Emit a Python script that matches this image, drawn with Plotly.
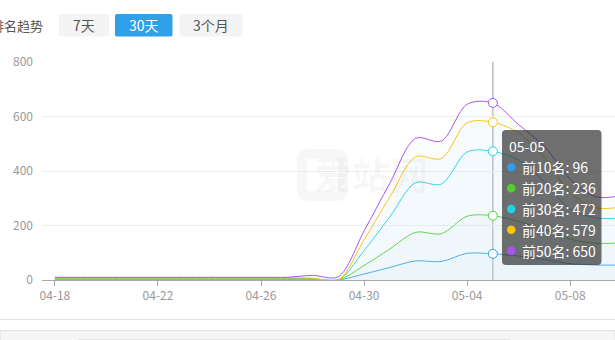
import plotly.graph_objects as go

# ---- data ----
dates = ["2024-04-18", "2024-04-19", "2024-04-20", "2024-04-21", "2024-04-22",
         "2024-04-23", "2024-04-24", "2024-04-25", "2024-04-26", "2024-04-27",
         "2024-04-28", "2024-04-29", "2024-04-30", "2024-05-01", "2024-05-02",
         "2024-05-03", "2024-05-04", "2024-05-05", "2024-05-06", "2024-05-07",
         "2024-05-08", "2024-05-09", "2024-05-10"]
series_names = ["前10名", "前20名", "前30名", "前40名", "前50名"]
top10 = [1, 1, 1, 1, 1, 1, 1, 1, 1, 1, 1, 0, 22, 46, 70, 68, 98, 96, 88, 75, 60, 55, 55]
top20 = [6, 6, 6, 6, 6, 6, 6, 6, 6, 6, 5, 0, 53, 114, 175, 170, 234, 236, 215, 185, 150, 135, 136]
top30 = [3, 3, 3, 3, 3, 3, 3, 3, 3, 3, 3, 0, 108, 232, 357, 352, 470, 472, 440, 360, 260, 228, 228]
top40 = [8, 8, 8, 8, 8, 8, 8, 8, 8, 8, 7, 0, 147, 305, 452, 446, 577, 579, 540, 450, 320, 265, 268]
top50 = [10, 10, 10, 10, 10, 10, 10, 10, 10, 10, 17, 12, 180, 355, 520, 510, 645, 650, 570, 490, 370, 305, 310]
colors = ["#2d9ef0", "#52cf2e", "#1fd4e6", "#fdc50a", "#a955ef"]
y_ticks = [0, 200, 400, 600, 800]
buttons = ["7天", "30天", "3个月"]
hover_date = "2024-05-05"

all_series = [top10, top20, top30, top40, top50]

# ---- geometry helpers (pixel -> paper) ----
W, H = 615, 340
L, R, T, B = 42, 0, 62, 60
PW, PH = W - L - R, H - T - B


def px(x):
    return (x - L) / PW


def py(y):
    return (H - B - y) / PH


def roundrect(x0, y0, x1, y1, r):
    pts = [
        ("M", [(x0 + r, y0)]), ("L", [(x1 - r, y0)]), ("Q", [(x1, y0), (x1, y0 + r)]),
        ("L", [(x1, y1 - r)]), ("Q", [(x1, y1), (x1 - r, y1)]), ("L", [(x0 + r, y1)]),
        ("Q", [(x0, y1), (x0, y1 - r)]), ("L", [(x0, y0 + r)]), ("Q", [(x0, y0), (x0 + r, y0)]),
    ]
    s = ""
    for cmd, ps in pts:
        s += cmd + " " + " ".join(f"{px(a):.5f},{py(b):.5f}" for a, b in ps) + " "
    return s + "Z"


fig = go.Figure()

for name, vals, c in zip(series_names, all_series, colors):
    fig.add_trace(go.Scatter(
        x=dates, y=vals, name=name, mode="lines",
        line=dict(color=c, width=1, shape="spline", smoothing=0.9),
        fill="tozeroy", fillcolor="rgba(200,225,236,0.07)",
        hoverinfo="skip", showlegend=False,
    ))

hi = dates.index(hover_date)
for name, vals, c in zip(series_names, all_series, colors):
    fig.add_trace(go.Scatter(
        x=[dates[hi]], y=[vals[hi]], mode="markers",
        marker=dict(size=9, color="white", line=dict(color=c, width=1)),
        hoverinfo="skip", showlegend=False,
    ))

shapes = []
annotations = []

# crosshair
shapes.append(dict(type="line", xref="x", yref="paper", x0=hover_date, x1=hover_date,
                   y0=0, y1=1, line=dict(color="#9a9a9a", width=1), layer="between"))

# watermark
annotations.append(dict(xref="paper", yref="paper", x=px(430), y=py(172), text="<b>爱站网</b>",
                        showarrow=False, font=dict(size=38, color="rgba(0,0,0,0.04)",
                                                    family="Noto Sans CJK SC")))
shapes.append(dict(type="path", xref="paper", yref="paper",
                   path=roundrect(302, 154, 343, 196, 6),
                   line=dict(color="rgba(0,0,0,0.03)", width=10), fillcolor="rgba(0,0,0,0)",
                   layer="below"))

# tooltip
shapes.append(dict(type="path", xref="paper", yref="paper",
                   path=roundrect(502, 130, 601.5, 265, 4),
                   fillcolor="rgba(50,50,50,0.7)", line=dict(width=0)))
annotations.append(dict(xref="paper", yref="paper", x=px(507), y=py(145.5),
                        xanchor="left", yanchor="middle", showarrow=False,
                        text=dates[hi][5:], font=dict(size=14, color="white",
                                                      family="Noto Sans CJK SC")))
for i, (name, vals, c) in enumerate(zip(series_names, all_series, colors)):
    yy = 167.3 + i * 20.85
    shapes.append(dict(type="circle", xref="paper", yref="paper",
                       x0=px(507), x1=px(515.5), y0=py(yy - 4.25), y1=py(yy + 4.25),
                       fillcolor=c, line=dict(width=0)))
    annotations.append(dict(xref="paper", yref="paper", x=px(519.5), y=py(yy),
                            xanchor="left", yanchor="middle", showarrow=False,
                            text=f"{name}: {vals[hi]}",
                            font=dict(size=14, color="white", family="Noto Sans CJK SC")))

# header title (cut off at the left edge of the page, as in the original)
annotations.append(dict(xref="paper", yref="paper", x=px(45), y=py(25),
                        xanchor="right", yanchor="middle", showarrow=False,
                        text="排名趋势", font=dict(size=13, color="#555555",
                                                family="Noto Sans CJK SC")))
# buttons
btn_boxes = [(59, 109), (115, 172.5), (179.5, 242.5)]
for label, (x0, x1) in zip(buttons, btn_boxes):
    active = label == "30天"
    shapes.append(dict(type="path", xref="paper", yref="paper",
                       path=roundrect(x0, 14, x1, 36.5, 2),
                       fillcolor="#2fa1ea" if active else "#f4f4f4", line=dict(width=0)))
    annotations.append(dict(xref="paper", yref="paper", x=px((x0 + x1) / 2), y=py(25.5),
                            xanchor="center", yanchor="middle", showarrow=False, text=label,
                            font=dict(size=14, color="white" if active else "#555555",
                                      family="Noto Sans CJK SC")))

# bottom page separators
shapes.append(dict(type="line", xref="paper", yref="paper", x0=px(0), x1=px(615),
                   y0=py(319.5), y1=py(319.5), line=dict(color="#e2e2e2", width=1)))
shapes.append(dict(type="rect", xref="paper", yref="paper", x0=px(0), x1=px(615),
                   y0=py(330.5), y1=py(341), fillcolor="#f5f5f5",
                   line=dict(color="#e2e2e2", width=1)))
shapes.append(dict(type="line", xref="paper", yref="paper", x0=px(78), x1=px(510),
                   y0=py(339.5), y1=py(339.5), line=dict(color="#e6e6e6", width=1)))

fig.update_layout(
    width=W, height=H,
    margin=dict(l=L, r=R, t=T, b=B),
    paper_bgcolor="white", plot_bgcolor="white",
    font=dict(family="Noto Sans CJK SC", size=12, color="#999999"),
    shapes=shapes, annotations=annotations,
    xaxis=dict(
        type="date", range=["2024-04-17 12:00", "2024-05-09 17:45"],
        tickformat="%m-%d", tick0="2024-04-18", dtick=4 * 86400000,
        showgrid=False, showline=True, linecolor="#a8a8a8", linewidth=1,
        ticks="outside", ticklen=5, tickcolor="#a8a8a8",
        tickfont=dict(size=12, color="#999999"), zeroline=False,
    ),
    yaxis=dict(
        range=[0, 800], tickvals=y_ticks, showgrid=True, gridcolor="#eeeeee",
        zeroline=False, showline=False, ticks="", ticklabelstandoff=8,
        tickfont=dict(size=12, color="#999999"),
    ),
)

fig.write_html("out.html")
